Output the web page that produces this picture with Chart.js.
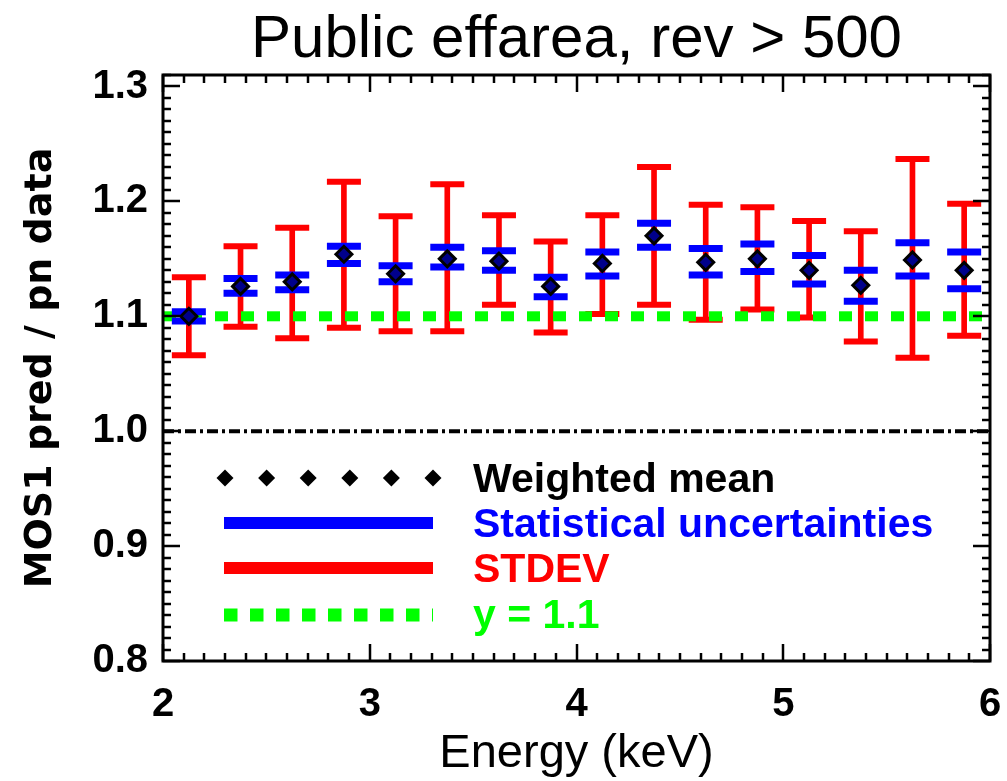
<!DOCTYPE html>
<html>
<head>
<meta charset="utf-8">
<script src="https://cdn.jsdelivr.net/npm/chart.js@4/dist/chart.umd.min.js"></script>
<style>
  html, body { margin: 0; padding: 0; background: #fff; }
  canvas { display: block; }
</style>
</head>
<body>
<canvas id="c" width="1007" height="781"></canvas>
<script>
// ---- data ----
const titleText = 'Public effarea, rev > 500';
const xTitle = 'Energy (keV)';
const yTitle = 'MOS1 pred / pn data';
const energy   = [2.125, 2.375, 2.625, 2.875, 3.125, 3.375, 3.625, 3.875, 4.125, 4.375, 4.625, 4.875, 5.125, 5.375, 5.625, 5.875];
const wMean    = [1.100, 1.126, 1.130, 1.154, 1.137, 1.150, 1.148, 1.126, 1.146, 1.170, 1.147, 1.150, 1.140, 1.127, 1.149, 1.140];
const statLow  = [1.096, 1.120, 1.123, 1.146, 1.130, 1.143, 1.140, 1.117, 1.135, 1.160, 1.136, 1.139, 1.128, 1.113, 1.135, 1.124];
const statHigh = [1.104, 1.133, 1.136, 1.161, 1.144, 1.160, 1.157, 1.134, 1.156, 1.181, 1.159, 1.163, 1.153, 1.140, 1.164, 1.156];
const sdLow    = [1.066, 1.091, 1.081, 1.090, 1.087, 1.087, 1.110, 1.086, 1.102, 1.110, 1.097, 1.106, 1.099, 1.078, 1.064, 1.083];
const sdHigh   = [1.134, 1.161, 1.177, 1.217, 1.187, 1.215, 1.188, 1.165, 1.188, 1.230, 1.197, 1.195, 1.183, 1.174, 1.237, 1.198];
const refLineX = [2, 6];
const refLevel = 1.1;
const unityLevel = 1.0;
const xTicks = [2, 3, 4, 5, 6];
const yTicks = [0.8, 0.9, 1.0, 1.1, 1.2, 1.3];
const legendLabels = ['Weighted mean', 'Statistical uncertainties', 'STDEV', 'y = 1.1'];

// ---- build ----
const FONT = "'Liberation Sans', Arial, sans-serif";
const FONT2 = "'DejaVu Sans', sans-serif";
const pts = (ys) => energy.map((x, i) => ({ x: x, y: ys[i] }));

const framePlugin = {
  id: 'frame',
  afterDraw(chart) {
    const { ctx, chartArea: a, scales } = chart;
    const xs = scales.x, ys = scales.y;
    ctx.save();
    ctx.strokeStyle = '#000';
    ctx.lineWidth = 2.5;
    ctx.beginPath();
    for (let k = 0; k <= 40; k++) {
      const v = 2 + k * 0.1;
      const len = (k % 10 === 0) ? 17 : 8;
      const px = Math.round(xs.getPixelForValue(v));
      ctx.moveTo(px, a.bottom); ctx.lineTo(px, a.bottom - len);
      ctx.moveTo(px, a.top); ctx.lineTo(px, a.top + len);
    }
    for (let k = 0; k <= 51; k++) {
      const v = 0.8 + k * 0.01;
      const len = (k % 10 === 0) ? 17 : 8;
      const py = Math.round(ys.getPixelForValue(v));
      ctx.moveTo(a.left, py); ctx.lineTo(a.left + len, py);
      ctx.moveTo(a.right, py); ctx.lineTo(a.right - len, py);
    }
    ctx.stroke();
    ctx.lineWidth = 3;
    ctx.strokeRect(a.left, a.top, a.right - a.left, a.bottom - a.top);
    ctx.restore();
  }
};

const legendPlugin = {
  id: 'customLegend',
  afterDraw(chart) {
    const { ctx, chartArea: a } = chart;
    const L = a.left;
    ctx.save();
    ctx.fillStyle = '#000';
    for (let i = 0; i < 6; i++) {
      const cx = L + 62 + i * 41.6, cy = 478, r = 8.5;
      ctx.beginPath();
      ctx.moveTo(cx - r, cy); ctx.lineTo(cx, cy - r); ctx.lineTo(cx + r, cy); ctx.lineTo(cx, cy + r);
      ctx.closePath(); ctx.fill();
    }
    ctx.lineCap = 'butt';
    ctx.lineWidth = 12;
    ctx.strokeStyle = '#0000ff';
    ctx.beginPath(); ctx.moveTo(L + 61, 523); ctx.lineTo(L + 270, 523); ctx.stroke();
    ctx.strokeStyle = '#ff0000';
    ctx.beginPath(); ctx.moveTo(L + 61, 568); ctx.lineTo(L + 270, 568); ctx.stroke();
    ctx.strokeStyle = '#00ff00';
    ctx.lineWidth = 13;
    ctx.setLineDash([13.5, 12.5]);
    ctx.beginPath(); ctx.moveTo(L + 61, 615); ctx.lineTo(L + 270, 615); ctx.stroke();
    ctx.setLineDash([]);
    const size = 41;
    ctx.font = 'bold ' + size + 'px ' + FONT;
    ctx.textAlign = 'left';
    ctx.textBaseline = 'alphabetic';
    const cols = ['#000000', '#0000ff', '#ff0000', '#00ff00'];
    const ycs = [477, 522, 567, 613];
    legendLabels.forEach((t, i) => {
      ctx.fillStyle = cols[i];
      ctx.fillText(t, L + 310, ycs[i] + size * 0.358);
    });
    ctx.restore();
  }
};

const capCommon = { type: 'scatter', pointStyle: 'line', pointRadius: 17, pointHoverRadius: 17, showLine: false };

new Chart(document.getElementById('c'), {
  type: 'scatter',
  data: {
    datasets: [
      { label: 'Weighted mean', type: 'scatter', data: pts(wMean), pointStyle: 'rectRot', pointRadius: 8, pointHoverRadius: 8,
        borderWidth: 3, pointBorderWidth: 3, borderColor: '#000', pointBorderColor: '#000', backgroundColor: '#00008b', pointBackgroundColor: '#00008b', order: 0 },
      Object.assign({ label: 'stat hi', data: pts(statHigh), borderColor: '#0000ff', pointBorderColor: '#0000ff', pointBorderWidth: 7, borderWidth: 7, order: 1 }, capCommon),
      Object.assign({ label: 'stat lo', data: pts(statLow), borderColor: '#0000ff', pointBorderColor: '#0000ff', pointBorderWidth: 7, borderWidth: 7, order: 1 }, capCommon),
      { label: 'y = 1.1', type: 'line', data: refLineX.map(x => ({ x: x, y: refLevel })), borderColor: '#00ff00', borderWidth: 10,
        borderDash: [13, 13], borderCapStyle: 'butt', pointRadius: 0, fill: false, order: 2 },
      Object.assign({ label: 'sd hi', data: pts(sdHigh), borderColor: '#ff0000', pointBorderColor: '#ff0000', pointBorderWidth: 6, borderWidth: 6, order: 3 }, capCommon),
      Object.assign({ label: 'sd lo', data: pts(sdLow), borderColor: '#ff0000', pointBorderColor: '#ff0000', pointBorderWidth: 6, borderWidth: 6, order: 3 }, capCommon),
      { label: 'STDEV', type: 'bar', data: energy.map((x, i) => ({ x: x, y: [sdLow[i], sdHigh[i]] })), backgroundColor: '#ff0000',
        borderWidth: 0, barThickness: 5, order: 4 },
      { label: 'unity', type: 'line', data: refLineX.map(x => ({ x: x, y: unityLevel })), borderColor: '#000', borderWidth: 4,
        borderDash: [11, 4, 3, 4], borderCapStyle: 'butt', pointRadius: 0, fill: false, order: 5 }
    ]
  },
  options: {
    responsive: false,
    animation: false,
    events: [],
    layout: { padding: 0, autoPadding: false },
    plugins: {
      legend: { display: false },
      tooltip: { enabled: false },
      title: { display: true, fullSize: false, text: titleText, color: '#000',
        font: { family: FONT, size: 60, weight: 'normal', lineHeight: 1 }, padding: { top: 10, bottom: 5 } }
    },
    scales: {
      x: {
        type: 'linear', min: 2, max: 6, offset: false,
        grid: { display: false, drawTicks: false },
        border: { display: false },
        afterBuildTicks: s => { s.ticks = xTicks.map(v => ({ value: v })); },
        ticks: { autoSkip: false, maxRotation: 0, color: '#000', padding: 24,
          font: { family: FONT, size: 40, weight: 'bold', lineHeight: 1 },
          callback: v => String(v) },
        title: { display: true, text: xTitle, color: '#000',
          font: { family: FONT, size: 47, weight: 'normal', lineHeight: 1 }, padding: { top: 0, bottom: 3 } },
        afterFit: s => { s.height = 120; s.paddingRight = 17; s.paddingLeft = 0; }
      },
      y: {
        type: 'linear', min: 0.8, max: 1.31,
        grid: { display: false, drawTicks: false },
        border: { display: false },
        afterBuildTicks: s => { s.ticks = yTicks.map(v => ({ value: v })); },
        ticks: { autoSkip: false, color: '#000', padding: 15,
          font: { family: FONT, size: 40, weight: 'bold', lineHeight: 1 },
          callback: v => Number(v).toFixed(1) },
        title: { display: true, text: yTitle, color: '#000',
          font: { family: FONT2, size: 38, weight: 'bold', lineHeight: 1 }, padding: { top: 22, bottom: 0 } },
        afterFit: s => { s.width = 163; s.paddingTop = 0; s.paddingBottom = 0; }
      }
    }
  },
  plugins: [framePlugin, legendPlugin]
});
</script>
</body>
</html>
